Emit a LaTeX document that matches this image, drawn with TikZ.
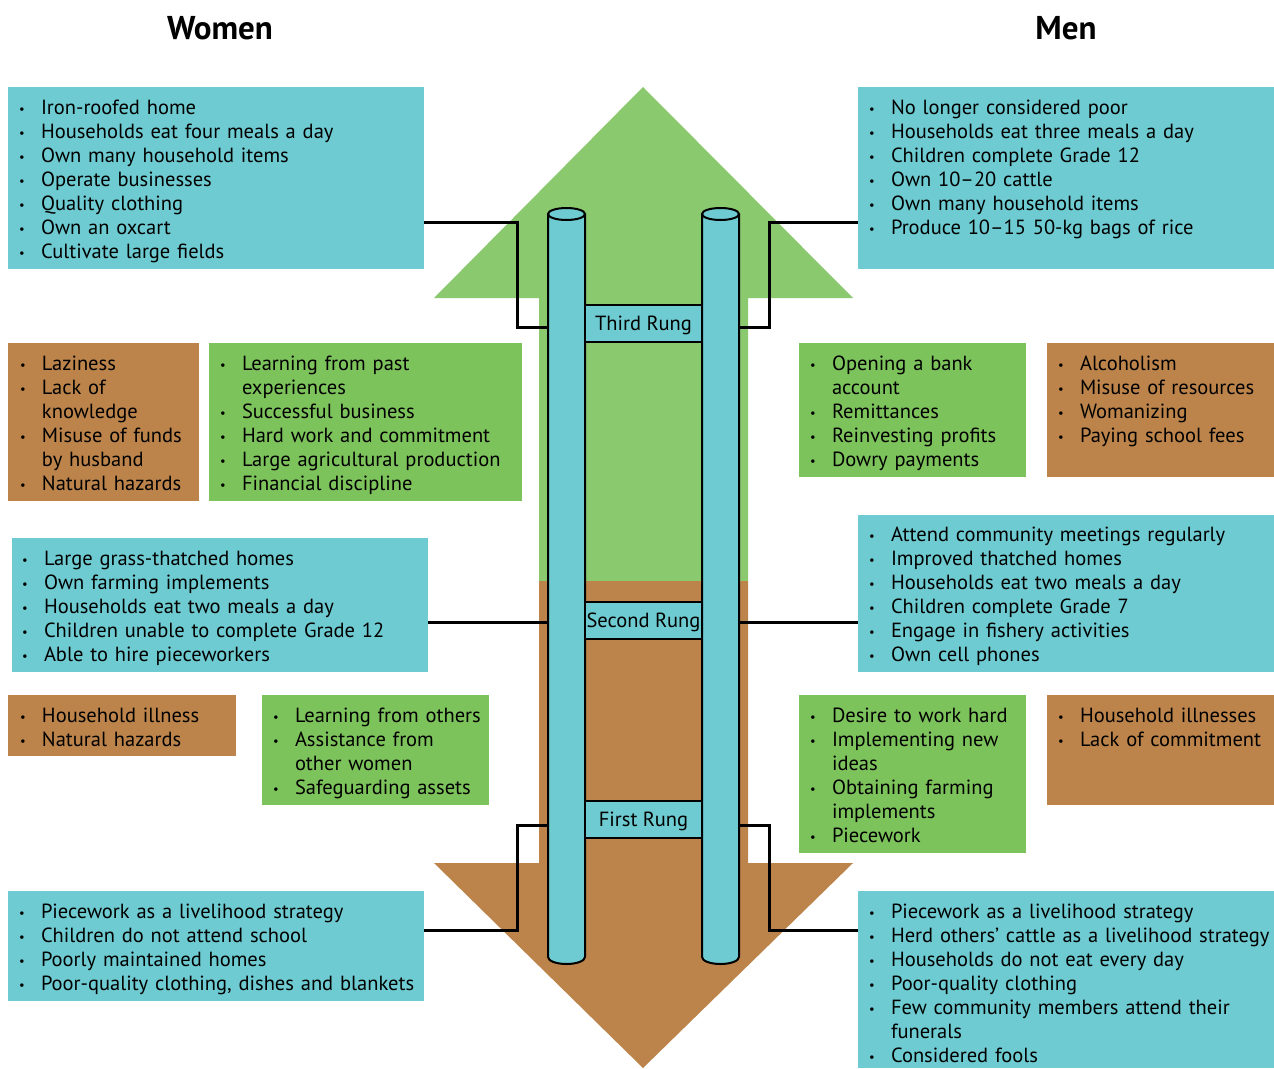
\documentclass[tikz,border=0pt]{standalone}
\usepackage{fontspec}
\setmainfont{PT Sans}
\definecolor{tealbox}{HTML}{6ECBD1}
\definecolor{greenbox}{HTML}{7DC35C}
\definecolor{greenarrow}{HTML}{8BC96E}
\definecolor{brownbox}{HTML}{BC844B}
\newcommand\bul{{\fontsize{12.5}{12}\selectfont\raisebox{0.3pt}{•}}}
\newcommand\itm[1]{\par\noindent\hangindent=19pt\hangafter=1\rule{0pt}{17pt}\makebox[19pt][l]{\makebox[0pt]{\bul}}#1}
\newcommand\brk{\hfil\break}
\begin{document}
\begin{tikzpicture}[x=1pt,y=-1pt,
  box/.style={fill=#1, draw=none, inner sep=0pt, outer sep=0pt, anchor=north west},
  txt/.style={anchor=north west, inner sep=0pt, outer sep=0pt, text width=420pt, align=left,
    font=\fontsize{20.5}{24}\selectfont, yshift=24pt},
  conn/.style={line width=3pt, line join=miter},
  pole/.style={minimum width=37pt, minimum height=743pt, inner sep=0pt, outer sep=0pt},
  poleline/.style={line width=2pt},
  rung/.style={draw, fill=tealbox, line width=1.5pt, minimum width=117pt, minimum height=37pt,
    inner sep=0pt, text height=19pt, text depth=5pt, font=\fontsize{20.5}{24}\selectfont},
  title/.style={font=\bfseries\fontsize{33}{34}\selectfont, inner sep=0pt}]
\useasboundingbox (0,0) rectangle (1274,1068);

% big arrows
\fill[greenarrow] (643,87) -- (853,298) -- (748,298) -- (748,581) -- (539,581) -- (539,298) -- (434,298) -- cycle;
\fill[brownbox] (539,581) -- (748,581) -- (748,863) -- (853,863) -- (643,1068) -- (434,863) -- (539,863) -- cycle;

% titles
\node[title] (tw) at (220,28) {Women};
\node[title] (tm) at (1066,28) {Men};

% boxes
\node[box=tealbox, minimum width=416pt, minimum height=182pt] (wtop) at (8,87) {};
\node[box=tealbox, minimum width=416pt, minimum height=182pt] (mtop) at (858,87) {};
\node[box=brownbox, minimum width=191pt, minimum height=158pt] (wbr1) at (8,343) {};
\node[box=greenbox, minimum width=313pt, minimum height=158pt] (wgr1) at (209,343) {};
\node[box=greenbox, minimum width=227pt, minimum height=134pt] (mgr1) at (799,343) {};
\node[box=brownbox, minimum width=227pt, minimum height=134pt] (mbr1) at (1047,343) {};
\node[box=tealbox, minimum width=416pt, minimum height=134pt] (wmid) at (12,538) {};
\node[box=tealbox, minimum width=416pt, minimum height=157pt] (mmid) at (858,515) {};
\node[box=brownbox, minimum width=228pt, minimum height=61pt] (wbr2) at (8,695) {};
\node[box=greenbox, minimum width=227pt, minimum height=110pt] (wgr2) at (262,695) {};
\node[box=greenbox, minimum width=227pt, minimum height=158pt] (mgr2) at (799,695) {};
\node[box=brownbox, minimum width=227pt, minimum height=110pt] (mbr2) at (1047,695) {};
\node[box=tealbox, minimum width=416pt, minimum height=110pt] (wbot) at (8,891) {};
\node[box=tealbox, minimum width=416pt, minimum height=177pt] (mbot) at (858,891) {};

% texts
\node[txt] (wtopt) at (22,114) {\itm{Iron-roofed home}\itm{Households eat four meals a day}\itm{Own many household items}\itm{Operate businesses}\itm{Quality clothing}\itm{Own an oxcart}\itm{Cultivate large fields}};
\node[txt] (mtopt) at (872,114) {\itm{No longer considered poor}\itm{Households eat three meals a day}\itm{Children complete Grade 12}\itm{Own 10--20 cattle}\itm{Own many household items}\itm{Produce 10--15 50-kg bags of rice}};
\node[txt] (wbr1t) at (23,370) {\itm{Laziness}\itm{Lack of\brk knowledge}\itm{Misuse of funds\brk by husband}\itm{Natural hazards}};
\node[txt] (wgr1t) at (223,370) {\itm{Learning from past\brk experiences}\itm{Successful business}\itm{Hard work and commitment}\itm{Large agricultural production}\itm{Financial discipline}};
\node[txt] (mgr1t) at (813,370) {\itm{Opening a bank\brk account}\itm{Remittances}\itm{Reinvesting profits}\itm{Dowry payments}};
\node[txt] (mbr1t) at (1061,370) {\itm{Alcoholism}\itm{Misuse of resources}\itm{Womanizing}\itm{Paying school fees}};
\node[txt] (wmidt) at (25,565) {\itm{Large grass-thatched homes}\itm{Own farming implements}\itm{Households eat two meals a day}\itm{Children unable to complete Grade 12}\itm{Able to hire pieceworkers}};
\node[txt] (mmidt) at (872,541) {\itm{Attend community meetings regularly}\itm{Improved thatched homes}\itm{Households eat two meals a day}\itm{Children complete Grade 7}\itm{Engage in fishery activities}\itm{Own cell phones}};
\node[txt] (wbr2t) at (23,722) {\itm{Household illness}\itm{Natural hazards}};
\node[txt] (wgr2t) at (276,722) {\itm{Learning from others}\itm{Assistance from\brk other women}\itm{Safeguarding assets}};
\node[txt] (mgr2t) at (813,722) {\itm{Desire to work hard}\itm{Implementing new\brk ideas}\itm{Obtaining farming\brk implements}\itm{Piecework}};
\node[txt] (mbr2t) at (1061,722) {\itm{Household illnesses}\itm{Lack of commitment}};
\node[txt] (wbott) at (22,918) {\itm{Piecework as a livelihood strategy}\itm{Children do not attend school}\itm{Poorly maintained homes}\itm{Poor-quality clothing, dishes and blankets}};
\node[txt] (mbott) at (872,918) {\itm{Piecework as a livelihood strategy}\itm{Herd others’ cattle as a livelihood strategy}\itm{Households do not eat every day}\itm{Poor-quality clothing}\itm{Few community members attend their\brk funerals}\itm{Considered fools}};

% poles (nodes for anchors)
\node[pole] (lp) at (566.5,585.5) {};
\node[pole] (rp) at (720.5,585.5) {};

% connectors
\coordinate (a1) at (517,222); \coordinate (a2) at (517,327);
\coordinate (b1) at (769,222); \coordinate (b2) at (769,327);
\coordinate (m0) at (643,622);
\coordinate (c1) at (517,825); \coordinate (c2) at (517,930);
\coordinate (d1) at (769,825); \coordinate (d2) at (769,930);
\draw[conn] (wtop.east |- a1) -- (a1) -- (a2) -- (lp.west |- a2);
\draw[conn] (mtop.west |- b1) -- (b1) -- (b2) -- (rp.east |- b2);
\draw[conn] (wmid.east |- m0) -- (lp.west |- m0);
\draw[conn] (rp.east |- m0) -- (mmid.west |- m0);
\draw[conn] (lp.west |- c1) -- (c1) -- (c2) -- (wbot.east |- c2);
\draw[conn] (rp.east |- d1) -- (d1) -- (d2) -- (mbot.west |- d2);

% draw poles
\foreach \p in {lp,rp}{
  \fill[tealbox] (\p.north west) -- (\p.south west) arc[start angle=180, end angle=0, x radius=18.5, y radius=7] -- (\p.north east) -- cycle;
  \draw[poleline] (\p.north west) -- (\p.south west) arc[start angle=180, end angle=0, x radius=18.5, y radius=7] -- (\p.north east);
  \filldraw[fill=tealbox, poleline] (\p.north) ellipse [x radius=18.5, y radius=6];
}

% rungs
\node[rung] (r3) at (643.5,323.5) {Third Rung};
\node[rung] (r2) at (643.5,620.5) {Second Rung};
\node[rung] (r1) at (643.5,819.5) {First Rung};
\end{tikzpicture}
\end{document}
